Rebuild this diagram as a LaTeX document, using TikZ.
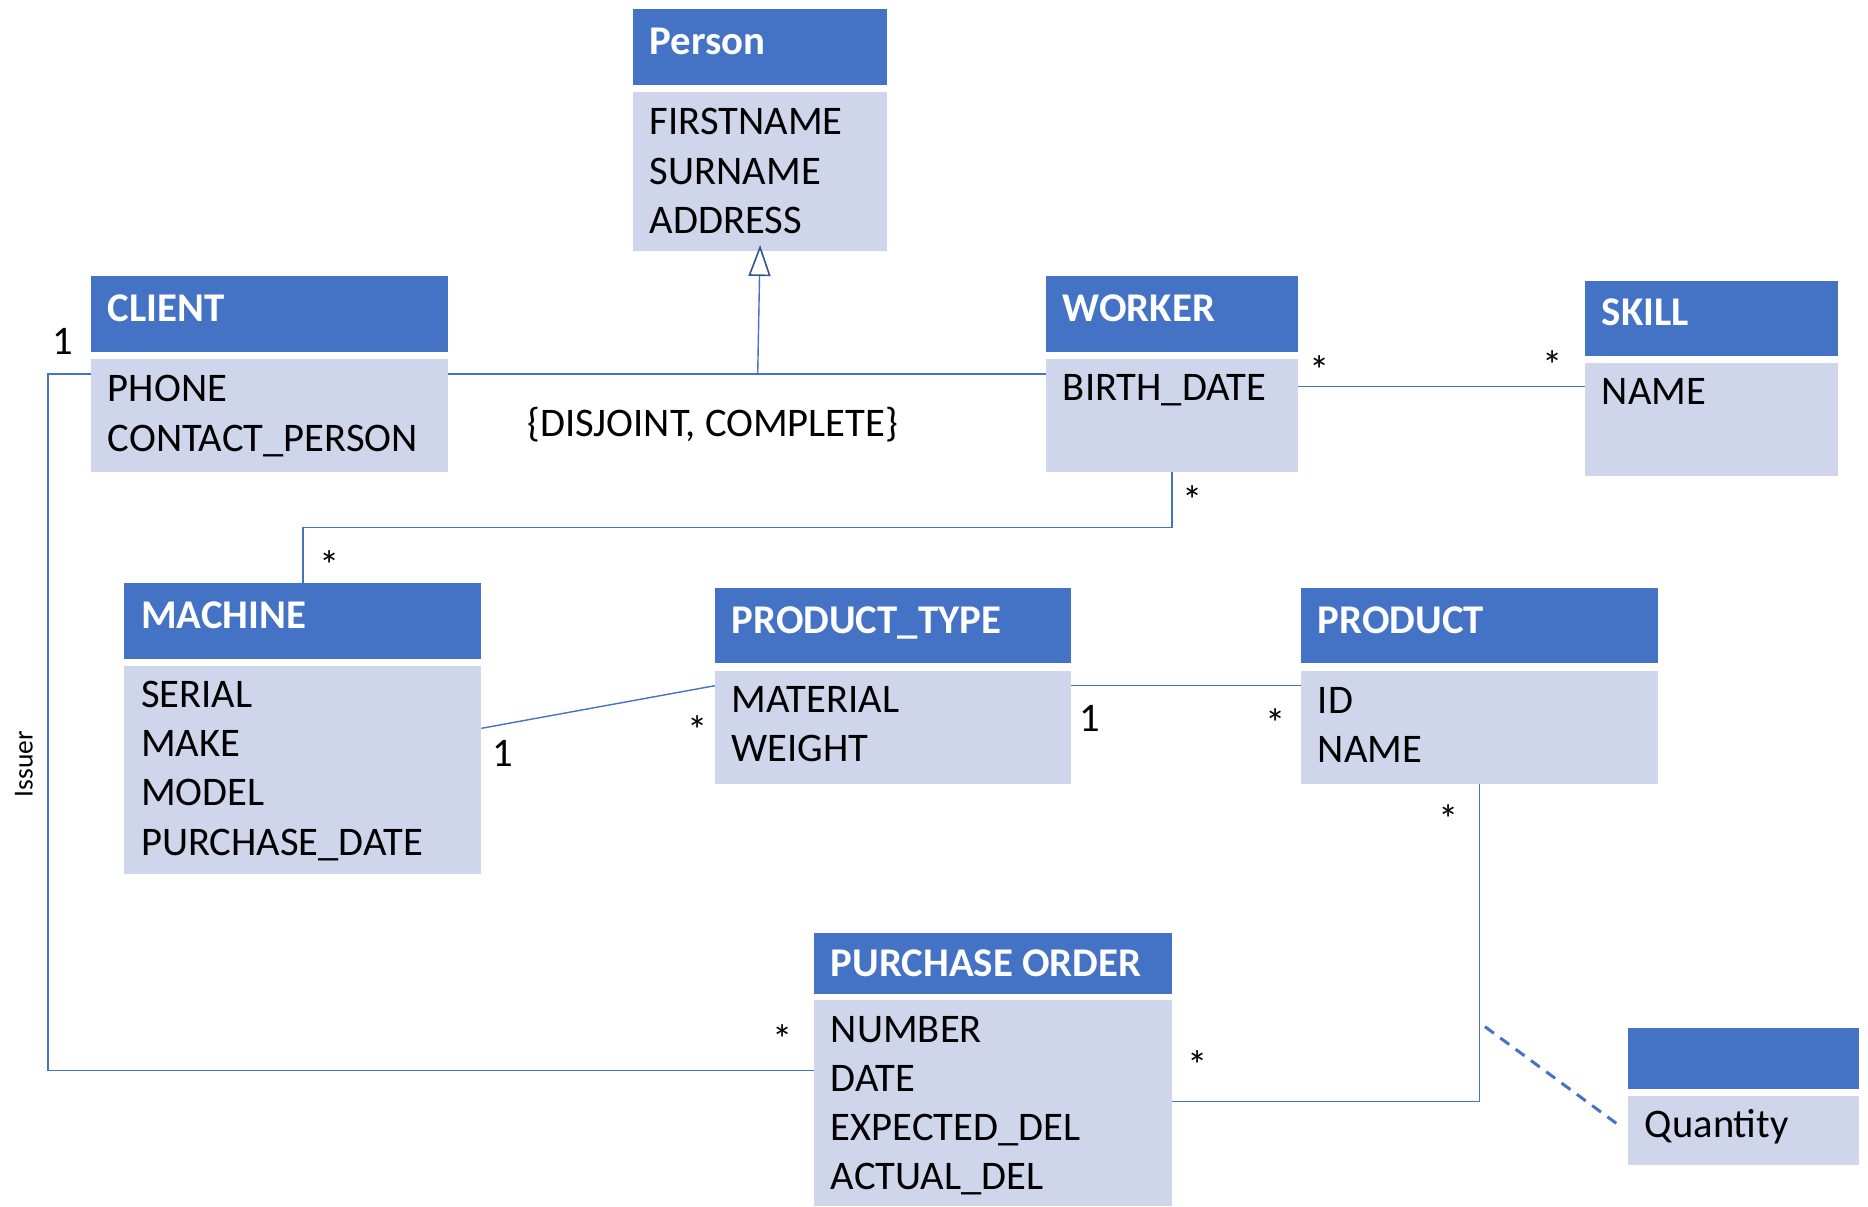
\documentclass[tikz,border=0pt]{standalone}
\usepackage{fontspec}
\setmainfont{Carlito}
\usetikzlibrary{arrows.meta}
\definecolor{hblue}{HTML}{4472C4}
\definecolor{bodyc}{HTML}{CFD5EA}
\definecolor{lblue}{HTML}{4472C4}
\definecolor{tdark}{HTML}{2F5597}
\tikzset{
  hdr/.style={rectangle, fill=hblue, draw=none, inner sep=0pt, outer sep=0pt, anchor=north west},
  bdy/.style={rectangle, fill=bodyc, draw=none, inner sep=0pt, outer sep=0pt, anchor=north west},
  htext/.style={font=\fontsize{20.4}{24.6}\selectfont\bfseries, text=white, inner sep=0pt, anchor=base west},
  atext/.style={font=\fontsize{20.3}{24.6}\selectfont, text=black, inner sep=0pt, anchor=base west, align=left},
  mult/.style={font=\fontsize{20.3}{24.6}\selectfont, text=black, inner sep=0pt},
  assoc/.style={draw=lblue, line width=0.7pt},
  qualif/.style={draw=lblue, line width=1.5pt, dash pattern=on 5.5pt off 4pt},
}
\newcommand\umlclass[7]{%
  \node[hdr, minimum width={(#3-#2)*0.5pt}, minimum height={(#5-#4)*0.5pt}] (#1-h) at (#2,#4) {};
  \node[bdy, minimum width={(#3-#2)*0.5pt}, minimum height={(#7-#6)*0.5pt}] (#1) at (#2,#6) {};
}
\begin{document}
\begin{tikzpicture}[x=0.5pt,y=-0.5pt]
\useasboundingbox (0,0) rectangle (1868,1206);
\fill[white] (0,0) rectangle (1868,1206);

% classes: name, x1, x2, header top, header bottom, body top, body bottom
\umlclass{person}{633}{887}{9.3}{85}{91.7}{250.7}
\umlclass{client}{91}{447.7}{276}{351.7}{359}{472}
\umlclass{worker}{1046}{1298}{276}{351.7}{359}{472}
\umlclass{skill}{1585}{1838}{280.7}{356.3}{363.3}{476.3}
\umlclass{machine}{124.2}{481.4}{583.3}{659}{666}{873.7}
\umlclass{ptype}{714.8}{1071.3}{588}{663.3}{670.7}{783.7}
\umlclass{product}{1301}{1658}{588}{663.3}{670.7}{783.7}
\umlclass{po}{814}{1171.6}{932.7}{993.7}{1000.3}{1206}
\umlclass{qty}{1628}{1859}{1028}{1089}{1095.7}{1165}

% titles
\node[htext] at ([shift={(16.5,45)}]person-h.north west) {Person};
\node[htext] at ([shift={(16.5,45)}]client-h.north west) {CLIENT};
\node[htext] at ([shift={(16.5,45)}]worker-h.north west) {WORKER};
\node[htext] at ([shift={(16.5,44.5)}]skill-h.north west) {SKILL};
\node[htext] at ([shift={(16.5,45)}]machine-h.north west) {MACHINE};
\node[htext] at ([shift={(16.5,45)}]ptype-h.north west) {PRODUCT\_TYPE};
\node[htext] at ([shift={(16.5,45)}]product-h.north west) {PRODUCT};
\node[htext] at ([shift={(16.5,43.8)}]po-h.north west) {PURCHASE ORDER};

% attributes (anchor = baseline of the last line)
\node[atext] at ([shift={(16.5,141.5)}]person.north west) {FIRSTNAME\\SURNAME\\ADDRESS};
\node[atext] at ([shift={(16.5,92)}]client.north west) {PHONE\\CONTACT\_PERSON};
\node[atext] at ([shift={(16.5,41)}]worker.north west) {BIRTH\_DATE};
\node[atext] at ([shift={(16.5,41)}]skill.north west) {NAME};
\node[atext] at ([shift={(16.5,189)}]machine.north west) {SERIAL\\MAKE\\MODEL\\PURCHASE\_DATE};
\node[atext] at ([shift={(16.5,90.5)}]ptype.north west) {MATERIAL\\WEIGHT};
\node[atext] at ([shift={(16.5,91.5)}]product.north west) {ID\\NAME};
\node[atext] at ([shift={(16.5,189.5)}]po.north west) {NUMBER\\DATE\\EXPECTED\_DEL\\ACTUAL\_DEL};
\node[atext] at ([shift={(16.5,41.6)}]qty.north west) {Quantity};

% helper coordinates
\coordinate (gen) at (757.7,374);
\coordinate (wsy) at (0,386.7);
\coordinate (wmy) at (0,527.7);
\coordinate (mpa) at (0,728.3);
\coordinate (mpb) at (0,685.7);
\coordinate (popy) at (0,1101.7);
\coordinate (issL) at (48,374);
\coordinate (issB) at (48,1070.7);
\coordinate (qa) at (1485,1026.7);
\coordinate (qb) at (1621.7,1127.3);

% generalization
\draw[assoc] (client.east |- gen) -- (worker.west |- gen);
\draw[assoc, -{Triangle[open, length=15.5pt, width=11pt, color=tdark, line width=0.8pt]}, shorten >=-2.85pt] (gen) -- (person.south);

% associations
\draw[assoc] (worker.east |- wsy) -- (skill.west |- wsy);
\draw[assoc] (worker.south) -- (worker.south |- wmy) -| (machine-h.north);
\draw[assoc] (machine.east |- mpa) -- (ptype.west |- mpb);
\draw[assoc] (ptype.east |- mpb) -- (product.west |- mpb);
\draw[assoc] (product.south) |- (po.east |- popy);
\draw[assoc] (client.west |- gen) -- (issL) -- (issB) -- (po.west |- issB);
\draw[qualif] (qa) -- (qb);

% labels
\node[mult, anchor=base] at (712.8,436.7) {\{DISJOINT, COMPLETE\}};
\node[mult, anchor=base] at (63,354) {1};
\node[mult, anchor=base] at (502.7,766.7) {1};
\node[mult, anchor=base] at (1089.7,731.7) {1};
\node[mult, anchor=north] at (1320,355) {*};
\node[mult, anchor=north] at (1552.7,350) {*};
\node[mult, anchor=north] at (1192.7,485) {*};
\node[mult, anchor=north] at (329.7,550) {*};
\node[mult, anchor=north] at (697.6,715) {*};
\node[mult, anchor=north] at (1275.3,708.3) {*};
\node[mult, anchor=north] at (1448.8,804.3) {*};
\node[mult, anchor=north] at (783,1024) {*};
\node[mult, anchor=north] at (1197.8,1050.7) {*};
\node[font=\fontsize{13.75}{16}\selectfont, rotate=90, inner sep=0pt] at (24,764) {Issuer};
\end{tikzpicture}
\end{document}
